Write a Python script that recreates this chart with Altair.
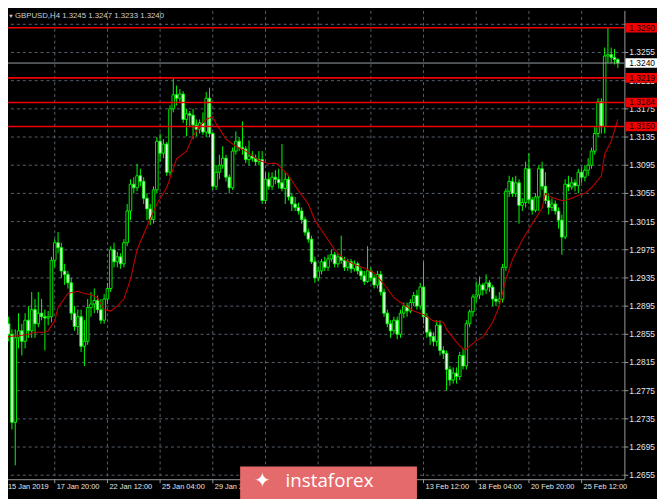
import altair as alt
import pandas as pd

# ---------------- data ----------------
bar_open = [1.2895,1.2920,1.2870,1.2855,1.2730,1.2850,1.2860,1.2845,1.2875,1.2860,
            1.2890,1.2870,1.2885,1.2880,1.2878,1.2880,1.2960,1.2985,1.2978,1.2945,
            1.2940,1.2928,1.2885,1.2866,1.2880,1.2838,1.2845,1.2893,1.2898,1.2903,
            1.2890,1.2875,1.2905,1.2920,1.2975,1.2958,1.2965,1.2955,1.2985,1.3030,
            1.3068,1.3063,1.3080,1.3072,1.3048,1.3033,1.3018,1.3060,1.3129,1.3112,
            1.3125,1.3085,1.3175,1.3195,1.3190,1.3196,1.3160,1.3168,1.3166,1.3152,
            1.3146,1.3155,1.3142,1.3190,1.3140,1.3065,1.3085,1.3095,1.3105,1.3078,
            1.3063,1.3115,1.3129,1.3120,1.3118,1.3103,1.3108,1.3105,1.3100,1.3103,
            1.3045,1.3075,1.3065,1.3078,1.3075,1.3070,1.3062,1.3075,1.3050,1.3040,
            1.3035,1.3030,1.3018,1.3000,1.2990,1.2958,1.2935,1.2945,1.2958,1.2950,
            1.2962,1.2968,1.2955,1.2965,1.2960,1.2950,1.2958,1.2948,1.2955,1.2945,
            1.2938,1.2930,1.2945,1.2935,1.2925,1.2940,1.2915,1.2885,1.2870,1.2860,
            1.2875,1.2855,1.2885,1.2895,1.2888,1.2900,1.2910,1.2895,1.2922,1.2880,
            1.2858,1.2852,1.2845,1.2868,1.2832,1.2828,1.2805,1.2790,1.2800,1.2795,
            1.2825,1.2810,1.2870,1.2887,1.2908,1.2911,1.2925,1.2918,1.2928,1.2922,
            1.2905,1.2902,1.2905,1.2950,1.3058,1.3072,1.3055,1.3070,1.3038,1.3042,
            1.3090,1.3046,1.3031,1.3050,1.3090,1.3065,1.3045,1.3035,1.3040,1.3030,
            1.3017,1.2993,1.3068,1.3064,1.3070,1.3066,1.3085,1.3078,1.3088,1.3095,
            1.3115,1.3140,1.3185,1.3150,1.3250,1.3252,1.3248,1.3245]
bar_high = [1.2930,1.2925,1.2880,1.2862,1.2862,1.2885,1.2870,1.2885,1.2895,1.2915,
            1.2905,1.2915,1.2905,1.2890,1.2888,1.2965,1.2990,1.3000,1.2985,1.2955,
            1.2945,1.2935,1.2895,1.2890,1.2890,1.2875,1.2905,1.2915,1.2920,1.2910,
            1.2905,1.2912,1.2928,1.2980,1.2985,1.2972,1.2970,1.2990,1.3040,1.3075,
            1.3078,1.3097,1.3090,1.3078,1.3055,1.3040,1.3065,1.3135,1.3140,1.3132,
            1.3128,1.3180,1.3218,1.3208,1.3203,1.3200,1.3175,1.3172,1.3175,1.3160,
            1.3160,1.3170,1.3199,1.3205,1.3142,1.3095,1.3110,1.3122,1.3110,1.3082,
            1.3120,1.3143,1.3135,1.3157,1.3122,1.3130,1.3115,1.3110,1.3115,1.3115,
            1.3085,1.3085,1.3085,1.3088,1.3090,1.3125,1.3085,1.3080,1.3055,1.3050,
            1.3042,1.3035,1.3022,1.3005,1.2995,1.2965,1.2950,1.2962,1.2965,1.2968,
            1.2975,1.2972,1.2970,1.2995,1.2965,1.2962,1.2962,1.2960,1.2958,1.2950,
            1.2945,1.2980,1.2950,1.2940,1.2945,1.2945,1.2920,1.2890,1.2875,1.2880,
            1.2880,1.2890,1.2900,1.2900,1.2905,1.2915,1.2918,1.2928,1.2958,1.2885,
            1.2862,1.2858,1.2875,1.2875,1.2838,1.2832,1.2810,1.2808,1.2808,1.2830,
            1.2835,1.2875,1.2890,1.2912,1.2930,1.2937,1.2928,1.2940,1.2932,1.2925,
            1.2910,1.2915,1.2955,1.3062,1.3080,1.3078,1.3080,1.3075,1.3048,1.3100,
            1.3112,1.3050,1.3055,1.3095,1.3100,1.3085,1.3055,1.3048,1.3045,1.3035,
            1.3025,1.3075,1.3080,1.3078,1.3075,1.3090,1.3092,1.3095,1.3105,1.3120,
            1.3150,1.3190,1.3190,1.3262,1.3290,1.3262,1.3260,1.3247]
bar_low = [1.2885,1.2860,1.2845,1.2720,1.2669,1.2835,1.2825,1.2835,1.2850,1.2850,
           1.2850,1.2865,1.2875,1.2832,1.2868,1.2872,1.2950,1.2970,1.2935,1.2925,
           1.2920,1.2875,1.2860,1.2855,1.2830,1.2810,1.2840,1.2880,1.2885,1.2885,
           1.2870,1.2870,1.2898,1.2915,1.2950,1.2950,1.2948,1.2950,1.2980,1.3017,
           1.3055,1.3058,1.3065,1.3040,1.3017,1.3010,1.3012,1.3055,1.3100,1.3105,
           1.3080,1.3080,1.3170,1.3180,1.3185,1.3155,1.3136,1.3150,1.3132,1.3136,
           1.3140,1.3138,1.3135,1.3135,1.3060,1.3060,1.3075,1.3090,1.3072,1.3055,
           1.3060,1.3110,1.3115,1.3110,1.3098,1.3095,1.3100,1.3095,1.3095,1.3040,
           1.3040,1.3060,1.3060,1.3068,1.3062,1.3058,1.3040,1.3045,1.3030,1.3030,
           1.3025,1.3012,1.2995,1.2985,1.2955,1.2928,1.2930,1.2940,1.2945,1.2945,
           1.2958,1.2950,1.2950,1.2955,1.2945,1.2945,1.2942,1.2944,1.2940,1.2932,
           1.2925,1.2928,1.2930,1.2920,1.2920,1.2910,1.2880,1.2865,1.2850,1.2855,
           1.2848,1.2850,1.2878,1.2880,1.2885,1.2895,1.2890,1.2890,1.2870,1.2850,
           1.2840,1.2838,1.2838,1.2825,1.2820,1.2775,1.2782,1.2785,1.2785,1.2790,
           1.2805,1.2805,1.2865,1.2880,1.2900,1.2905,1.2910,1.2912,1.2915,1.2895,
           1.2895,1.2898,1.2900,1.2945,1.3050,1.3050,1.3050,1.3012,1.3030,1.3035,
           1.3040,1.3025,1.3028,1.3030,1.3060,1.3040,1.3025,1.3030,1.3025,1.3005,
           1.2968,1.2990,1.3058,1.3060,1.3058,1.3055,1.3070,1.3072,1.3080,1.3090,
           1.3110,1.3135,1.3140,1.3140,1.3240,1.3240,1.3238,1.3233]
bar_close = [1.2920,1.2870,1.2855,1.2730,1.2850,1.2860,1.2845,1.2875,1.2860,1.2890,
             1.2870,1.2885,1.2880,1.2878,1.2880,1.2960,1.2985,1.2978,1.2945,1.2940,
             1.2928,1.2885,1.2866,1.2880,1.2838,1.2845,1.2893,1.2898,1.2903,1.2890,
             1.2875,1.2905,1.2920,1.2975,1.2958,1.2965,1.2955,1.2985,1.3030,1.3068,
             1.3063,1.3080,1.3072,1.3048,1.3033,1.3018,1.3060,1.3129,1.3112,1.3125,
             1.3085,1.3175,1.3195,1.3190,1.3196,1.3160,1.3168,1.3166,1.3152,1.3146,
             1.3155,1.3142,1.3190,1.3140,1.3065,1.3085,1.3095,1.3105,1.3078,1.3063,
             1.3115,1.3129,1.3120,1.3118,1.3103,1.3108,1.3105,1.3100,1.3103,1.3045,
             1.3075,1.3065,1.3078,1.3075,1.3070,1.3062,1.3075,1.3050,1.3040,1.3035,
             1.3030,1.3018,1.3000,1.2990,1.2958,1.2935,1.2945,1.2958,1.2950,1.2962,
             1.2968,1.2955,1.2965,1.2960,1.2950,1.2958,1.2948,1.2955,1.2945,1.2938,
             1.2930,1.2945,1.2935,1.2925,1.2940,1.2915,1.2885,1.2870,1.2860,1.2875,
             1.2855,1.2885,1.2895,1.2888,1.2900,1.2910,1.2895,1.2922,1.2880,1.2858,
             1.2852,1.2845,1.2868,1.2832,1.2828,1.2805,1.2790,1.2800,1.2795,1.2825,
             1.2810,1.2870,1.2887,1.2908,1.2911,1.2925,1.2918,1.2928,1.2922,1.2905,
             1.2902,1.2905,1.2950,1.3058,1.3072,1.3055,1.3070,1.3038,1.3042,1.3090,
             1.3046,1.3031,1.3050,1.3090,1.3065,1.3045,1.3035,1.3040,1.3030,1.3017,
             1.2993,1.3068,1.3064,1.3070,1.3066,1.3085,1.3078,1.3088,1.3095,1.3115,
             1.3140,1.3185,1.3150,1.3250,1.3252,1.3248,1.3245,1.3240]

# moving average (red line), read at sample bars
ma_bar = [0,2,5,8,10,13,14,16,17,20,23,25,27,29,31,33,35,37,39,41,44,47,50,53,56,58,
          60,62,64,65,68,71,74,77,78,81,83,84,87,90,93,95,98,101,104,107,110,113,116,
          119,122,125,128,131,134,135,138,140,141,144,146,149,151,153,155,158,161,164,
          165,167,170,171,173,175,177,179,182,183,185,187]
ma_val = [1.2837,1.2852,1.2853,1.2855,1.2858,1.2858,1.2860,1.2874,1.2893,1.2913,1.2916,
          1.2913,1.2911,1.2907,1.2890,1.2888,1.2895,1.2905,1.2933,1.2975,1.3008,1.3040,
          1.3063,1.3104,1.3115,1.3136,1.3150,1.3160,1.3164,1.3154,1.3132,1.3122,1.3115,
          1.3105,1.3102,1.3097,1.3098,1.3095,1.3080,1.3059,1.3040,1.3017,1.2996,1.2975,
          1.2961,1.2954,1.2949,1.2942,1.2926,1.2907,1.2897,1.2888,1.2883,1.2874,1.2872,
          1.2862,1.2844,1.2834,1.2834,1.2846,1.2851,1.2872,1.2895,1.2933,1.2961,1.2989,
          1.3012,1.3034,1.3055,1.3049,1.3045,1.3045,1.3048,1.3052,1.3055,1.3063,1.3080,
          1.3111,1.3129,1.3160]

price_ticks = [1.2655,1.2695,1.2735,1.2775,1.2815,1.2855,1.2895,1.2935,1.2975,
               1.3015,1.3055,1.3095,1.3135,1.3175,1.3215,1.3255,1.3295]
price_labels = [1.2655,1.2695,1.2735,1.2775,1.2815,1.2855,1.2895,1.2935,1.2975,
                1.3015,1.3055,1.3095,1.3135,1.3175,1.3215,1.3255]
time_ticks = [0,16,32,48,64,80,96,112,128,144,160,176]
time_labels = ["15 Jan 2019","17 Jan 20:00","22 Jan 12:00","25 Jan 04:00",
               "29 Jan 20:00","1 Feb 12:00","6 Feb 04:00","8 Feb 20:00",
               "13 Feb 12:00","18 Feb 04:00","20 Feb 20:00","25 Feb 12:00"]
level_lines = [1.3290,1.3219,1.3184,1.3150]
current_price = [1.3240]
symbol = "GBPUSD,H4"

# ---------------- chart ----------------
W, H = 624, 474
FONT = "Liberation Sans"
LIME = "#00ff00"
GRID = "#56616d"
AXIS = "#9a9a9a"
TXT = "#e6e6e6"

bars = pd.DataFrame({"i": list(range(len(bar_close))), "o": bar_open,
                     "h": bar_high, "l": bar_low, "c": bar_close})
ma = pd.DataFrame({"i": ma_bar, "v": ma_val})
levels = pd.DataFrame({"p": level_lines})
cur = pd.DataFrame({"p": current_price})
pt = pd.DataFrame({"p": price_ticks})
pl = pd.DataFrame({"p": price_labels})
tt = pd.DataFrame({"t": time_ticks, "lab": time_labels})
one = pd.DataFrame({"a": [0]})

xs = alt.Scale(domain=[1.8, 189.0], nice=False, zero=False, padding=0)
ys = alt.Scale(domain=[1.26493, 1.33139], nice=False, zero=False, padding=0)
X = lambda f: alt.X(f, scale=xs, axis=None)
Y = lambda f: alt.Y(f, scale=ys, axis=None)

# grid and axes drawn as marks
hgrid = alt.Chart(pt).mark_rule(color=GRID, strokeDash=[3, 3], strokeWidth=1).encode(
    y=Y("p:Q"))
vgrid = alt.Chart(tt).mark_rule(color=GRID, strokeDash=[3, 3], strokeWidth=1,
                                clip=True).encode(x=X("t:Q"))
ydom = alt.Chart(one).mark_rule(color=AXIS, strokeWidth=1).encode(
    x=alt.value(624.5), y=alt.value(0), y2=alt.value(474))
xdom = alt.Chart(one).mark_rule(color=AXIS, strokeWidth=1).encode(
    y=alt.value(474.5), x=alt.value(0), x2=alt.value(624.5))
yticks = alt.Chart(pt).mark_rule(color=AXIS, strokeWidth=1).encode(
    y=Y("p:Q"), x=alt.value(624), x2=alt.value(628))
ylabs = alt.Chart(pl).mark_text(align="left", baseline="middle", font=FONT,
                                fontSize=8.5, color=TXT).encode(
    x=alt.value(629), y=Y("p:Q"), text=alt.Text("p:Q", format=".4f"))
xticks = alt.Chart(tt).mark_rule(color=AXIS, strokeWidth=1, clip=False).encode(
    x=X("t:Q"), y=alt.value(474), y2=alt.value(478))
# labels that sit fully under the watermark are not visible in the reference
xlabs = alt.Chart(tt).transform_filter("datum.t > 0 && (datum.t < 70 || datum.t > 120)").mark_text(
    align="left", baseline="top", font=FONT, fontSize=7.5, color=TXT, dx=2).encode(
    x=X("t:Q"), y=alt.value(478), text="lab:N")
xlab0 = alt.Chart(tt).transform_filter("datum.t == 0").mark_text(
    align="left", baseline="top", font=FONT, fontSize=7.5, color=TXT).encode(
    x=alt.value(0), y=alt.value(478), text="lab:N")

# candles
wick = alt.Chart(bars).mark_rule(color=LIME, strokeWidth=1, clip=True).encode(
    x=X("i:Q"), y=Y("l:Q"), y2="h:Q")
body = alt.Chart(bars).mark_bar(width=2.6, stroke=LIME, strokeWidth=0.9, clip=True).encode(
    x=X("i:Q"), y=Y("o:Q"), y2="c:Q",
    fill=alt.condition("datum.c >= datum.o", alt.value("#000000"), alt.value("#eaffea")),
)
ma_line = alt.Chart(ma).mark_line(color="#c00000", strokeWidth=1.1, clip=True).encode(
    x=X("i:Q"), y=Y("v:Q"))

# horizontal levels and current price
lvl = alt.Chart(levels).mark_rule(color="#f00000", strokeWidth=1.6).encode(y=Y("p:Q"))
cur_line = alt.Chart(cur).mark_rule(color="#9aa0a6", strokeWidth=1).encode(y=Y("p:Q"))
lvl_box = alt.Chart(levels).transform_calculate(
    top="datum.p + 0.00068", bot="datum.p - 0.00068").mark_rect(color="#f00000").encode(
    x=alt.value(625), x2=alt.value(660), y=Y("top:Q"), y2="bot:Q")
lvl_txt = alt.Chart(levels).mark_text(align="left", baseline="middle", font=FONT,
                                      fontSize=8.5, color="#1a0000").encode(
    x=alt.value(629), y=Y("p:Q"), text=alt.Text("p:Q", format=".4f"))
cur_box = alt.Chart(cur).transform_calculate(
    top="datum.p + 0.00068", bot="datum.p - 0.00068").mark_rect(color="#ffffff").encode(
    x=alt.value(625), x2=alt.value(660), y=Y("top:Q"), y2="bot:Q")
cur_txt = alt.Chart(cur).mark_text(align="left", baseline="middle", font=FONT,
                                   fontSize=8.5, color="#000000").encode(
    x=alt.value(629), y=Y("p:Q"), text=alt.Text("p:Q", format=".4f"))

# header
last = len(bar_close) - 1
title_str = "%s  %.4f %.4f %.4f %.4f" % (symbol, bar_open[last], bar_high[last],
                                         bar_low[last], bar_close[last])
head = pd.DataFrame({"t": [title_str]})
arrow = alt.Chart(head).mark_text(text="\u25bc", align="left", baseline="top",
                                  fontSize=6, color="#c8c8c8").encode(
    x=alt.value(0), y=alt.value(2))
title = alt.Chart(head).mark_text(align="left", baseline="top", font=FONT,
                                  fontSize=7.9, color="#cfcfcf").encode(
    x=alt.value(7), y=alt.value(1), text="t:N")

# watermark
wm = pd.DataFrame({"t": ["instaforex"]})
wm_box = alt.Chart(wm).mark_rect(color="#e46a6c").encode(
    x=alt.value(235), x2=alt.value(414), y=alt.value(461), y2=alt.value(495))
wm_icon = alt.Chart(wm).mark_text(text="\u2726", align="center", baseline="middle",
                                  fontSize=20, color="#ffffff").encode(
    x=alt.value(258), y=alt.value(476))
wm_txt = alt.Chart(wm).mark_text(align="left", baseline="middle", font="Open Sans",
                                 fontSize=19, color="#ffffff").encode(
    x=alt.value(281), y=alt.value(476), text="t:N")

chart = alt.layer(
    hgrid, vgrid, ydom, xdom, yticks, ylabs, xticks, xlabs, xlab0,
    wick, body, ma_line, lvl, cur_line, lvl_box, lvl_txt, cur_box, cur_txt,
    arrow, title, wm_box, wm_icon, wm_txt
).properties(
    width=W, height=H, background="#000000",
    padding={"left": 0, "top": 0, "right": 33, "bottom": 17},
    autosize=alt.AutoSizeParams(type="none"),
).configure_view(strokeWidth=0)

chart.save("out.html", embed_options={"renderer": "svg", "actions": False})
